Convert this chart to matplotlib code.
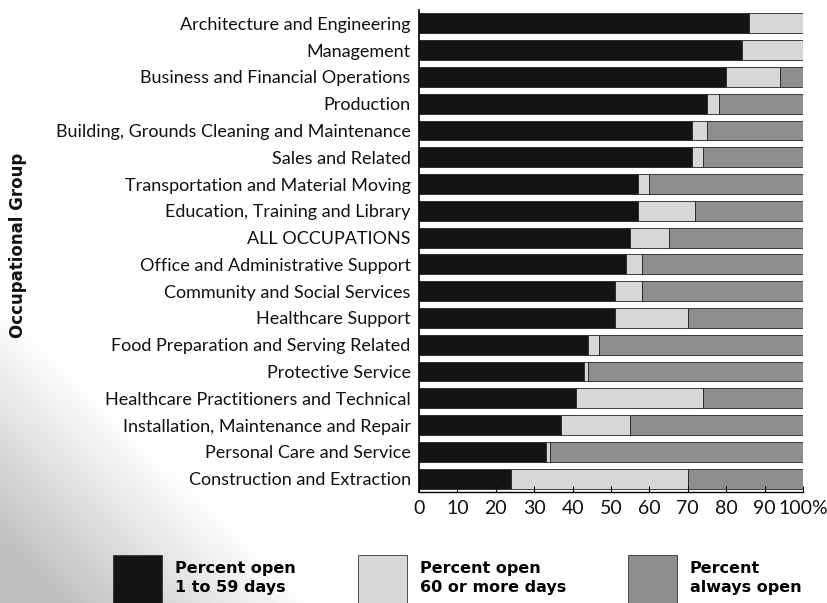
import numpy as np
import matplotlib
matplotlib.use("Agg")
import matplotlib.pyplot as plt
from matplotlib.patches import Patch

categories = [
    "Architecture and Engineering",
    "Management",
    "Business and Financial Operations",
    "Production",
    "Building, Grounds Cleaning and Maintenance",
    "Sales and Related",
    "Transportation and Material Moving",
    "Education, Training and Library",
    "ALL OCCUPATIONS",
    "Office and Administrative Support",
    "Community and Social Services",
    "Healthcare Support",
    "Food Preparation and Serving Related",
    "Protective Service",
    "Healthcare Practitioners and Technical",
    "Installation, Maintenance and Repair",
    "Personal Care and Service",
    "Construction and Extraction",
]
open_1_59 = [86, 84, 80, 75, 71, 71, 57, 57, 55, 54, 51, 51, 44, 43, 41, 37, 33, 24]
open_60_plus = [14, 16, 14, 3, 4, 3, 3, 15, 10, 4, 7, 19, 3, 1, 33, 18, 1, 46]
always_open = [0, 0, 6, 22, 25, 26, 40, 28, 35, 42, 42, 30, 53, 56, 26, 45, 66, 30]
xticks = [0, 10, 20, 30, 40, 50, 60, 70, 80, 90, 100]
xticklabels = ["0", "10", "20", "30", "40", "50", "60", "70", "80", "90", "100%"]
series_labels = ["Percent open\n1 to 59 days", "Percent open\n60 or more days", "Percent\nalways open"]

plt.rcParams['font.family'] = ['Lato', 'DejaVu Sans']

fig = plt.figure(figsize=(8.27, 6.03), dpi=100)
W, H = 827, 603

# background gradient in lower-left corner
bg = fig.add_axes([0, 0, 1, 1], zorder=-10)
yy, xx = np.mgrid[0:H, 0:W]
d = (yy / H) * 1.0 - (xx / W) * 1.3
t = np.clip((d - 0.5) / 0.4, 0, 1)
img = 1 - 0.25 * t
bg.imshow(img, cmap='gray', vmin=0, vmax=1, aspect='auto', extent=[0, 1, 0, 1], origin='upper')
bg.axis('off')

ax = fig.add_axes([419 / W, 1 - 492 / H, (803 - 419) / W, (492 - 10) / H])
ax.patch.set_alpha(0)
y = np.arange(len(categories))
colors = ['#141414', '#d7d7d7', '#8e8e8e']
left = np.zeros(len(categories))
for vals, c, lab in zip([open_1_59, open_60_plus, always_open], colors, series_labels):
    vals = np.array(vals, dtype=float)
    ax.barh(y, vals, left=left, height=0.74, color=c, edgecolor='#222222', linewidth=0.6, label=lab)
    left += vals

ax.set_ylim(len(categories) - 0.5, -0.5)
ax.set_xlim(0, 100)
ax.set_yticks(y)
ax.set_yticklabels(categories, fontsize=13, color='#111111')
ax.tick_params(axis='y', length=0, pad=6)
ax.set_xticks(xticks)
ax.set_xticklabels(xticklabels, fontsize=14, color='#111111')
ax.tick_params(axis='x', direction='in', length=4, pad=6, width=0.8)
ax.spines['top'].set_visible(False)
ax.spines['right'].set_visible(False)
ax.spines['left'].set_linewidth(1.2)
ax.spines['bottom'].set_linewidth(1.0)

fig.text(18 / W, 1 - 245 / H, "Occupational Group", rotation=90, ha='center', va='center',
         fontsize=12, fontweight='bold', color='#111111', family='DejaVu Sans')

# legend: three single-entry legends at measured positions
box_left = [113, 358, 628]
fs = 11.5
em = fs * 100 / 72
box_h = 50.0
hh = (box_h / em - 0.245) / 0.65
for c, lab, bx in zip(colors, series_labels, box_left):
    h = Patch(facecolor=c, edgecolor='#333333', linewidth=0.6)
    leg = fig.legend([h], [lab], loc='upper left', bbox_to_anchor=(bx / W, 1 - 555 / H),
                     frameon=False, borderpad=0, borderaxespad=0,
                     handlelength=49 / em, handleheight=hh, handletextpad=0.8,
                     prop={'weight': 'bold', 'size': fs, 'family': 'DejaVu Sans'})
    for txt in leg.get_texts():
        txt.set_linespacing(1.35)

fig.savefig("out.png", dpi=100)
